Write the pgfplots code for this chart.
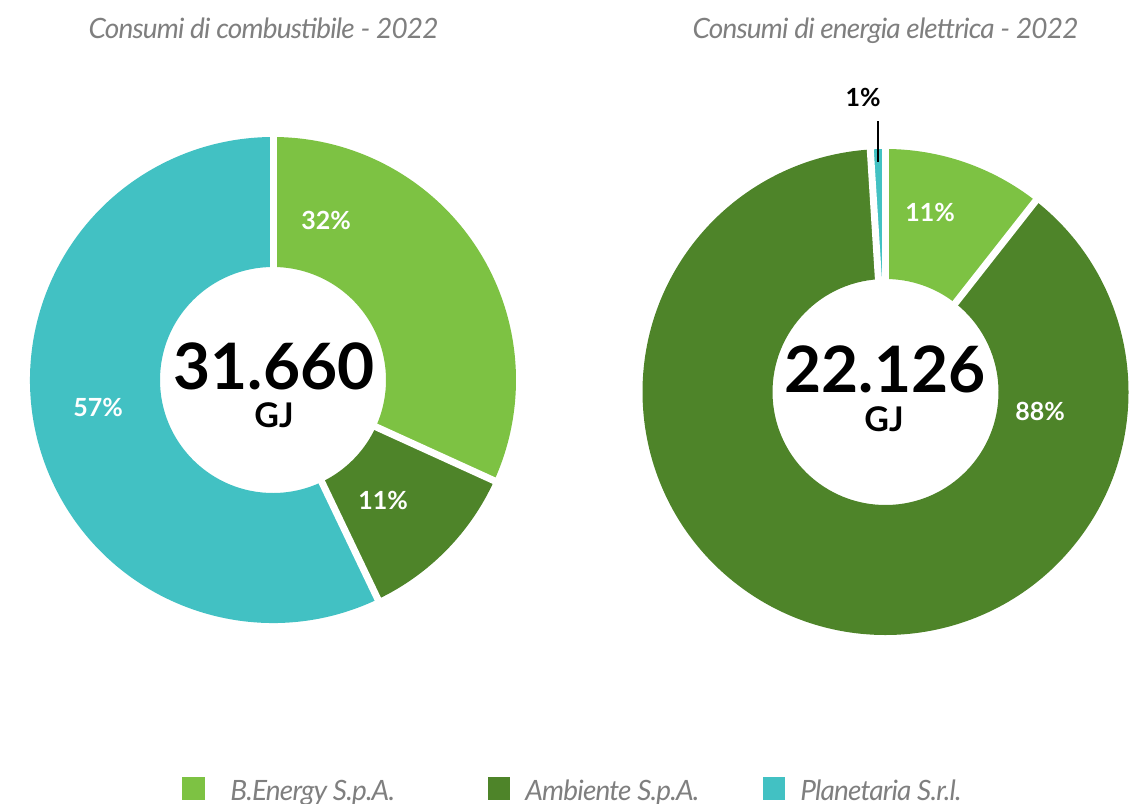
\documentclass[border=0pt]{standalone}
\usepackage{fontspec}
\setmainfont{Lato}
\usepackage{pgfplots}
\usepackage{pgfplotstable}
\pgfplotsset{compat=1.18}

\definecolor{cLight}{HTML}{7DC243}
\definecolor{cDark}{HTML}{4E8429}
\definecolor{cTeal}{HTML}{42C1C3}
\definecolor{cGray}{HTML}{7F7F7F}

% shares in percent, clockwise from 12 o'clock
\pgfplotstableread{
share col
31.8 cLight
11.1 cDark
57.1 cTeal
}\fuel
\pgfplotstableread{
share col
10.6 cLight
88.4 cDark
1.0 cTeal
}\elec

\newcommand\Rout{121.5pt}
\newcommand\Rin{56.5pt}
\newcommand\greyfont{\fontsize{14}{16}\selectfont\itshape\addfontfeature{LetterSpace=-3}}

% #1,#2 centre in px, #3 table
% (axis commands run later, so every path is expanded before it is stored)
\newcommand\donut[3]{%
  \pgfplotstablegetrowsof{#3}%
  \pgfmathtruncatemacro\nlast{\pgfplotsretval-1}%
  \xdef\acc{90}%
  \foreach \i in {0,...,\nlast}{%
    \pgfplotstablegetelem{\i}{share}\of{#3}\let\sh\pgfplotsretval
    \pgfplotstablegetelem{\i}{col}\of{#3}\let\col\pgfplotsretval
    \pgfmathsetmacro\aend{\acc-3.6*\sh}%
    \edef\slice{\noexpand\fill[\col] ([shift={(axis cs:#1,#2)}]\acc:\Rout)
      arc[start angle=\acc,end angle=\aend,radius=\Rout]
      -- ([shift={(axis cs:#1,#2)}]\aend:\Rin)
      arc[start angle=\aend,end angle=\acc,radius=\Rin] -- cycle;}%
    \slice
    \xdef\acc{\aend}%
  }%
  \xdef\acc{90}%
  \foreach \i in {0,...,\nlast}{%
    \pgfplotstablegetelem{\i}{share}\of{#3}\let\sh\pgfplotsretval
    \pgfmathsetmacro\aend{\acc-3.6*\sh}%
    \edef\gap{\noexpand\draw[white,line width=3.5pt]
      ([shift={(axis cs:#1,#2)}]\acc:50pt) -- ([shift={(axis cs:#1,#2)}]\acc:126pt);}%
    \gap
    \xdef\acc{\aend}%
  }%
}

\begin{document}
\begin{tikzpicture}
\begin{axis}[
  scale only axis, width=564.5pt, height=401.5pt,
  xmin=0, xmax=1129, ymin=0, ymax=803, y dir=reverse,
  hide axis, clip=false]

\donut{273}{380}{\fuel}
\donut{885.5}{392}{\elec}

\tikzset{every node/.style={inner sep=0pt}}
% titles
\node[anchor=base, text=cGray, font=\greyfont]
  at (axis cs:263.5,38) {Consumi di combustibile - 2022};
\node[anchor=base, text=cGray, font=\greyfont]
  at (axis cs:885.5,38) {Consumi di energia elettrica - 2022};

% totals
\node[font=\fontsize{32}{34}\selectfont\bfseries] at (axis cs:274,366) {31.660};
\node[font=\fontsize{17}{19}\selectfont\bfseries] at (axis cs:274,415) {GJ};
\node[font=\fontsize{32}{34}\selectfont\bfseries] at (axis cs:885,369) {22.126};
\node[font=\fontsize{17}{19}\selectfont\bfseries] at (axis cs:884,419) {GJ};

% slice labels
\begin{scope}[every node/.append style={text=white, font=\fontsize{12.5}{14}\selectfont\bfseries}]
\node at (axis cs:326,220) {32\%};
\node at (axis cs:383,500) {11\%};
\node at (axis cs:98,407) {57\%};
\node at (axis cs:930,212) {11\%};
\node at (axis cs:1040,411) {88\%};
\end{scope}
\node[font=\fontsize{12.5}{14}\selectfont\bfseries] at (axis cs:863,97) {1\%};
\draw[black, line width=1pt] (axis cs:877.5,121) -- (axis cs:877.5,162);

% legend
\fill[cLight] (axis cs:182,777) rectangle (axis cs:205,800);
\fill[cDark]  (axis cs:488,777) rectangle (axis cs:510,800);
\fill[cTeal]  (axis cs:763,777) rectangle (axis cs:785,800);
\begin{scope}[every node/.append style={anchor=base west, text=cGray, font=\greyfont}]
\node at (axis cs:230,800) {B.Energy S.p.A.};
\node at (axis cs:525,800) {Ambiente S.p.A.};
\node at (axis cs:800,800) {Planetaria S.r.l.};
\end{scope}
\end{axis}
\pgfresetboundingbox
\useasboundingbox (0,0) rectangle (564.5pt,401.5pt);
\end{tikzpicture}
\end{document}
